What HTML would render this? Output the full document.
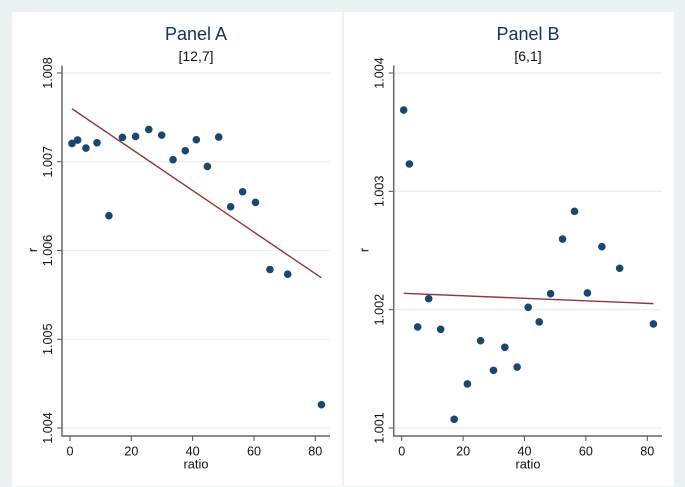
<!DOCTYPE html>
<html>
<head>
<meta charset="utf-8">
<style>
html,body{margin:0;padding:0;background:#eaf2f3;}
#chart{display:block;width:685px;height:487px;font-family:"Liberation Sans",Arial,sans-serif;filter:blur(0.35px);}
</style>
</head>
<body>
<svg id="chart" xmlns="http://www.w3.org/2000/svg" width="685" height="487" viewBox="0 0 685 487">
<rect x="0" y="0" width="685" height="487" fill="#eaf2f3"/>
</svg>
<script>
var ratioValues = [0.65, 2.5, 5.2, 8.8, 12.7, 17.1, 21.4, 25.7, 29.9, 33.6, 37.6, 41.2, 44.8, 48.5, 52.4, 56.3, 60.5, 65.2, 71, 82];
var panelAValues = [1.007206, 1.007244, 1.007154, 1.007214, 1.006392, 1.007274, 1.007285, 1.007364, 1.0073, 1.007023, 1.007124, 1.007248, 1.006947, 1.007278, 1.006493, 1.006662, 1.006542, 1.005786, 1.005733, 1.004263];
var panelBValues = [1.003687, 1.003231, 1.001854, 1.002093, 1.001834, 1.001073, 1.001372, 1.001738, 1.001487, 1.001682, 1.001515, 1.00202, 1.001896, 1.002135, 1.002597, 1.002831, 1.002141, 1.002532, 1.00235, 1.001879];
var fitRatio = [0.65, 82];
var panelAFit = [1.007597, 1.005692];
var panelBFit = [1.002138, 1.002051];
var xTicks = [0, 20, 40, 60, 80];
var panelATicks = [1.004, 1.005, 1.006, 1.007, 1.008];
var panelBTicks = [1.001, 1.002, 1.003, 1.004];

var svg = document.getElementById('chart');
var NS = 'http://www.w3.org/2000/svg';

function make(tag, attrs, parent, text) {
  var node = document.createElementNS(NS, tag);
  for (var k in attrs) { node.setAttribute(k, attrs[k]); }
  if (text !== undefined) { node.textContent = text; }
  parent.appendChild(node);
  return node;
}

function drawPanel(cfg) {
  var el;
  var g = make('g', {}, svg);
  
  

  var xOf = function (v) { return cfg.x0 + v * (cfg.x80 - cfg.x0) / 80; };
  var yOf = function (v) {
    var a = cfg.yTicks[0], b = cfg.yTicks[cfg.yTicks.length - 1];
    return cfg.yBottom + (v - a) * (cfg.yTop - cfg.yBottom) / (b - a);
  };

  el = make('rect', {x: cfg.left, y: 12, width: cfg.width, height: 474, fill: '#ffffff'}, g);
  
  

  cfg.yTicks.forEach(function (t) {
    var y = yOf(t);
    el = make('line', {x1: cfg.axisX, x2: cfg.axisEnd, y1: y, y2: y, stroke: '#e6f0f1', 'stroke-width': 1.3}, g);
    
    
    el = make('line', {x1: cfg.axisX - 5, x2: cfg.axisX, y1: y, y2: y, stroke: '#4f4f4f', 'stroke-width': 1}, g);
    
    
    var lx = cfg.axisX - 10;
    el = make('text', {x: lx, y: y, 'font-size': 12.6, fill: '#111', 'text-anchor': 'middle', transform: 'rotate(-90 ' + lx + ' ' + y + ')'}, g, t.toFixed(3));
    
    
  });

  el = make('line', {x1: cfg.axisX, x2: cfg.axisX, y1: 65.5, y2: 436.5, stroke: '#666666', 'stroke-width': 1.5}, g);
  
  
  el = make('line', {x1: cfg.axisX - 0.7, x2: cfg.axisEnd, y1: 436, y2: 436, stroke: '#666666', 'stroke-width': 1.5}, g);
  
  

  xTicks.forEach(function (t) {
    var x = xOf(t);
    el = make('line', {x1: x, x2: x, y1: 436, y2: 441, stroke: '#4f4f4f', 'stroke-width': 1}, g);
    
    
    el = make('text', {x: x, y: 455.5, 'font-size': 12.6, fill: '#111', 'text-anchor': 'middle'}, g, String(t));
    
    
  });

  el = make('text', {x: cfg.titleX, y: 40, 'font-size': 18, fill: '#1a2f66', 'text-anchor': 'middle'}, g, cfg.title);
  
  
  el = make('text', {x: cfg.titleX, y: 61, 'font-size': 14, fill: '#111', 'text-anchor': 'middle'}, g, cfg.subtitle);
  
  
  el = make('text', {x: cfg.titleX, y: 468.5, 'font-size': 12.8, fill: '#111', 'text-anchor': 'middle'}, g, 'ratio');
  
  
  var rx = cfg.axisX - 25, ry = 250;
  el = make('text', {x: rx, y: ry, 'font-size': 12.8, fill: '#111', 'text-anchor': 'middle', transform: 'rotate(-90 ' + rx + ' ' + ry + ')'}, g, 'r');
  
  

  ratioValues.forEach(function (v, i) {
    el = make('circle', {cx: xOf(v), cy: yOf(cfg.values[i]), r: 3.8, fill: '#1a476f'}, g);
    
    
  });

  el = make('line', {x1: xOf(fitRatio[0]), y1: yOf(cfg.fit[0]), x2: xOf(fitRatio[1]), y2: yOf(cfg.fit[1]), stroke: '#90353b', 'stroke-width': 1.4}, g);
  
  
}

drawPanel({key: 'panel-a', title: 'Panel A', subtitle: '[12,7]', left: 12, width: 330, axisX: 62, axisEnd: 330, titleX: 196, x0: 70, x80: 315.3, yBottom: 428, yTop: 73, yTicks: panelATicks, values: panelAValues, fit: panelAFit});
drawPanel({key: 'panel-b', title: 'Panel B', subtitle: '[6,1]', left: 344, width: 330, axisX: 393.7, axisEnd: 662, titleX: 528, x0: 401.7, x80: 647.3, yBottom: 428, yTop: 73, yTicks: panelBTicks, values: panelBValues, fit: panelBFit});
</script>
</body>
</html>
